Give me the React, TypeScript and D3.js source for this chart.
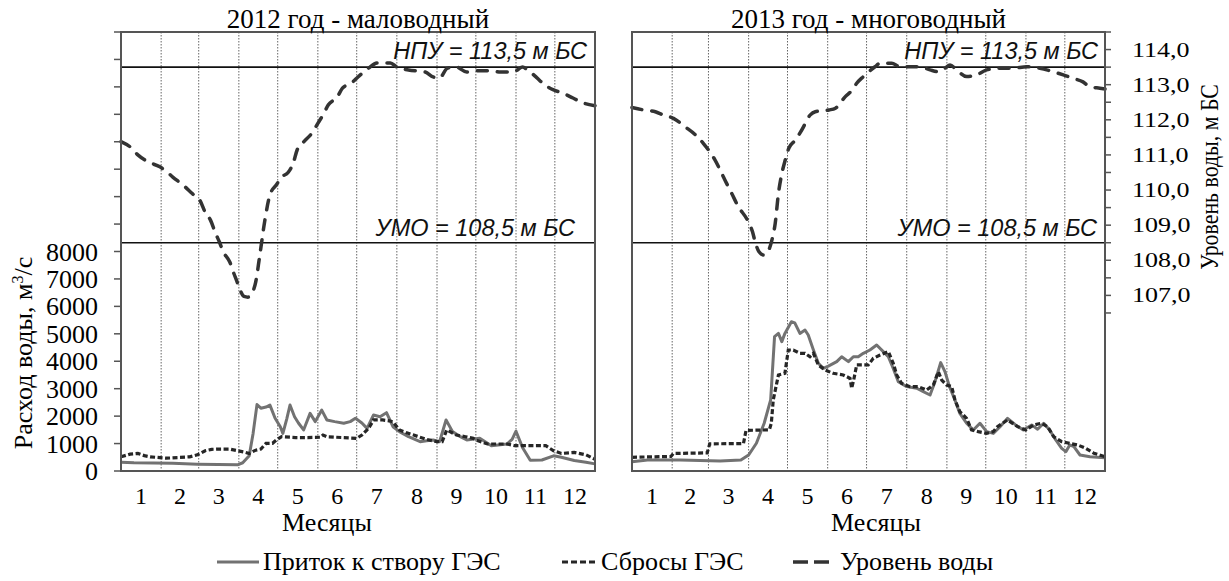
import React, { useEffect, useRef } from 'react'
import * as d3 from 'd3'

const monthLabels = ['1', '2', '3', '4', '5', '6', '7', '8', '9', '10', '11', '12']
const monthDays2012 = [31, 29, 31, 30, 31, 30, 31, 31, 30, 31, 30, 31]
const monthDays2013 = [31, 28, 31, 30, 31, 30, 31, 31, 30, 31, 30, 31]
const flowTicks = [0, 1000, 2000, 3000, 4000, 5000, 6000, 7000, 8000]
const flowMinorTicks = [9000, 10000, 11000, 12000, 13000, 14000, 15000, 16000]
const levelTicks = [107, 108, 109, 110, 111, 112, 113, 114]
const NPU = 113.5
const UMO = 108.5

// [day of year, value]
const level2012 = [
  [0, 111.38], [7, 111.23], [13, 111.0], [21, 110.8], [30, 110.66], [36, 110.5], [40, 110.37],
  [48, 110.14], [55, 109.9], [61, 109.7], [65, 109.37], [69, 109.15], [73, 108.77], [76, 108.52],
  [79, 108.24], [84, 107.95], [87, 107.64], [90, 107.35], [92, 107.15], [95, 106.97], [98, 106.95],
  [101, 107.05], [104, 107.38], [107, 108.1], [111, 109.12], [115, 109.86], [120, 110.15],
  [124, 110.37], [129, 110.5], [133, 110.77], [136, 111.14], [141, 111.37], [148, 111.65],
  [152, 111.9], [156, 112.14], [160, 112.42], [167, 112.65], [171, 112.9], [178, 113.05],
  [183, 113.22], [191, 113.47], [198, 113.62], [208, 113.62], [213, 113.5], [222, 113.42],
  [235, 113.36], [241, 113.22], [246, 113.19], [252, 113.47], [259, 113.5], [267, 113.36],
  [276, 113.4], [285, 113.4], [293, 113.36], [303, 113.36], [310, 113.5], [314, 113.42],
  [321, 113.2], [327, 113.0], [334, 112.85], [341, 112.76], [349, 112.62], [357, 112.48], [366, 112.4],
]

const inflow2012 = [
  [0, 320], [10, 300], [25, 290], [40, 280], [59, 250], [75, 235], [90, 225], [94, 300], [99, 560],
  [102, 1370], [105, 2420], [108, 2290], [112, 2330], [115, 2400], [119, 1920], [123, 1615],
  [125, 1370], [128, 1900], [130.5, 2405], [134, 1980], [137, 1750], [141, 1495], [146, 2100],
  [150, 1800], [155, 2220], [159, 1860], [165, 1800], [172, 1740], [177, 1800], [181, 1920],
  [186, 1750], [190, 1555], [195, 2040], [200, 1980], [205, 2125], [210, 1615], [215, 1435],
  [222, 1250], [231, 1070], [236, 1100], [241, 1130], [246, 1070], [251, 1860], [256, 1435],
  [262, 1250], [267, 1130], [277, 1190], [286, 922], [298, 984], [302, 1150], [305, 1450],
  [310, 860], [316, 390], [325, 400], [334, 553], [340, 500], [350, 380], [359, 320], [366, 260],
]

const discharge2012 = [
  [0, 516], [7, 615], [13, 640], [18, 560], [22.5, 516], [35, 467], [53, 516], [59, 590], [65, 738],
  [70, 790], [75, 800], [84, 800], [90, 738], [95, 690], [99, 640], [104, 760], [108, 800],
  [112, 1010], [117, 1010], [120, 1130], [124, 1250], [135, 1220], [144, 1220], [154, 1230],
  [156, 1310], [159, 1250], [170, 1220], [182, 1190], [186, 1310], [190, 1500], [192, 1615],
  [195, 1860], [202, 1860], [207, 1830], [210, 1790], [215, 1495], [220, 1400], [226, 1310],
  [236, 1150], [244, 1070], [248, 1070], [251.5, 1495], [259, 1310], [266, 1250], [272, 1190],
  [274, 1130], [283, 984], [298, 984], [304, 922], [328, 922], [334, 738], [340, 640], [350, 676],
  [359, 590], [366, 430],
]

const level2013 = [
  [0, 112.35], [9, 112.28], [18, 112.23], [24, 112.14], [32, 112.04], [41, 111.8], [49, 111.57],
  [55, 111.33], [60, 111.09], [64, 110.86], [68, 110.57], [73, 110.19], [77, 109.9], [82, 109.53],
  [89, 109.15], [93, 108.81], [95, 108.53], [98, 108.24], [101.5, 108.15], [104, 108.2],
  [108, 108.58], [110.5, 109.05], [113, 109.9], [115.7, 110.48], [118.3, 110.86], [121, 111.19],
  [126, 111.42], [131, 111.71], [137.6, 112.14], [141.4, 112.23], [152, 112.28], [157, 112.33],
  [164.6, 112.66], [170, 112.85], [173.4, 113.04], [178.5, 113.23], [187.5, 113.51],
  [191.4, 113.61], [200.4, 113.61], [206.8, 113.51], [214.5, 113.51], [222, 113.51], [230, 113.42],
  [236, 113.37], [241.5, 113.47], [245.4, 113.56], [250.5, 113.42], [258.3, 113.23], [266, 113.28],
  [273.7, 113.42], [284, 113.47], [294, 113.47], [304.6, 113.51], [314.8, 113.47], [325, 113.37],
  [332.8, 113.28], [340.5, 113.18], [348, 113.08], [353.4, 112.94], [361, 112.9], [365, 112.88],
]

const inflow2013 = [
  [0, 340], [12, 400], [37, 400], [68, 365], [84, 400], [90, 583], [96, 1010], [102, 1740],
  [107, 2590], [110, 4895], [113, 5015], [115.6, 4715], [118, 5015], [123, 5440], [125.6, 5400],
  [129.6, 5015], [133.5, 5140], [136, 4955], [140, 4410], [143.8, 3925], [147.6, 3740],
  [151.5, 3825], [158, 3985], [161.8, 4165], [167, 3985], [170.8, 4165], [174.6, 4165],
  [178.5, 4290], [183.6, 4410], [188.8, 4590], [193.9, 4350], [197.8, 4165], [201.6, 3740],
  [205.5, 3255], [212, 3075], [219.7, 3015], [224.8, 2890], [230, 2770], [233.8, 3255],
  [238.2, 3950], [241.5, 3620], [245, 3075], [249.2, 2590], [253, 2100], [258.2, 1740],
  [263.4, 1495], [268.5, 1740], [273.7, 1435], [278.8, 1370], [284, 1615], [289.8, 1920],
  [296, 1680], [302, 1495], [308.4, 1680], [313, 1520], [317.7, 1740], [322.3, 1495], [327, 1130],
  [331.6, 825], [334.8, 704], [337.8, 948], [341, 885], [345.7, 583], [353.4, 522], [365, 485],
]

const discharge2013 = [
  [0, 500], [30, 530], [32, 640], [58, 660], [60, 990], [86, 1000], [88, 1480], [106, 1500],
  [107.5, 1740], [109, 2590], [113, 3500], [118, 3560], [120.6, 4410], [124.5, 4410],
  [129.6, 4290], [133.5, 4290], [137.3, 4165], [140, 4290], [143.8, 3865], [149, 3680],
  [155.3, 3560], [163, 3500], [168.2, 3380], [169.5, 3015], [171, 3300], [173.4, 3865],
  [178.5, 3865], [182.3, 3865], [186.2, 4105], [191.4, 4225], [197.8, 4350], [201.6, 3925],
  [204.3, 3500], [208, 3195], [214.5, 3075], [220.9, 3075], [227.4, 2950], [232.5, 3135],
  [236.4, 3620], [239, 3315], [242.8, 3135], [246.7, 3075], [249.2, 2590], [253, 2160],
  [258.2, 1920], [262, 1495], [267.2, 1435], [273.7, 1370], [278.8, 1435], [282, 1615],
  [289.8, 1860], [297.6, 1615], [303.8, 1495], [310, 1680], [316, 1740], [320.7, 1615],
  [325.4, 1250], [331.6, 1070], [337.8, 1008], [344, 948], [350.2, 825], [356.5, 645], [365, 522],
]

const serif = '"Liberation Serif", "Times New Roman", serif'
const sans = '"Liberation Sans", Arial, sans-serif'
const inflowColor = '#727272'
const dischargeColor = '#262626'
const levelColor = '#333333'
const frameColor = '#555555'

const App = () => {
  const chartRef = useRef(null)

  useEffect(() => {
    const svg = d3.select(chartRef.current)
    svg.selectAll('*').remove()

    const top = 32
    const bottom = 471
    const yQ = d3.scaleLinear().domain([0, 16000]).range([bottom, top])
    const yL = d3.scaleLinear().domain([102, 114.5]).range([bottom, top])

    const panels = [
      {
        title: '2012 год - маловодный', days: 366, monthDays: monthDays2012, x0: 121, x1: 595,
        level: level2012, inflow: inflow2012, discharge: discharge2012,
        npuEnd: 587, umoEnd: 575, xTitle: 327,
      },
      {
        title: '2013 год - многоводный', days: 365, monthDays: monthDays2013, x0: 632, x1: 1105,
        level: level2013, inflow: inflow2013, discharge: discharge2013,
        npuEnd: 1098, umoEnd: 1097, xTitle: 876,
      },
    ]

    panels.forEach((p) => {
      const x = d3.scaleLinear().domain([0, p.days]).range([p.x0, p.x1])
      const g = svg.append('g')
      const ends = d3.cumsum(p.monthDays)
      const starts = [0, ...ends.slice(0, 11)]

      // month boundaries
      g.selectAll('.grid')
        .data(ends.slice(0, 11))
        .enter()
        .append('line')
        .attr('x1', (d) => x(d))
        .attr('x2', (d) => x(d))
        .attr('y1', top)
        .attr('y2', bottom)
        .attr('stroke', '#666')
        .attr('stroke-width', 1)
        .attr('stroke-dasharray', '1.5,1.5')

      // НПУ / УМО
      ;[NPU, UMO].forEach((v) => {
        g.append('line')
          .attr('x1', p.x0)
          .attr('x2', p.x1)
          .attr('y1', yL(v))
          .attr('y2', yL(v))
          .attr('stroke', '#111')
          .attr('stroke-width', 1.6)
      })
      g.append('text')
        .attr('x', p.npuEnd)
        .attr('y', yL(NPU) - 8)
        .attr('text-anchor', 'end')
        .attr('font-family', sans)
        .attr('font-style', 'italic')
        .attr('font-size', 23.5)
        .attr('fill', '#111')
        .text('НПУ = 113,5 м БС')
      g.append('text')
        .attr('x', p.umoEnd)
        .attr('y', yL(UMO) - 7)
        .attr('text-anchor', 'end')
        .attr('font-family', sans)
        .attr('font-style', 'italic')
        .attr('font-size', 23.5)
        .attr('fill', '#111')
        .text('УМО = 108,5 м БС')

      const flowLine = d3.line().x((d) => x(d[0])).y((d) => yQ(d[1]))
      const levelLine = d3
        .line()
        .x((d) => x(d[0]))
        .y((d) => yL(d[1]))
        .curve(d3.curveMonotoneX)

      g.append('path')
        .attr('d', flowLine(p.inflow))
        .attr('fill', 'none')
        .attr('stroke', inflowColor)
        .attr('stroke-width', 3)
        .attr('stroke-linejoin', 'round')

      g.append('path')
        .attr('d', flowLine(p.discharge))
        .attr('fill', 'none')
        .attr('stroke', dischargeColor)
        .attr('stroke-width', 3.2)
        .attr('stroke-dasharray', '5,2.5')

      g.append('path')
        .attr('d', levelLine(p.level))
        .attr('fill', 'none')
        .attr('stroke', levelColor)
        .attr('stroke-width', 3.5)
        .attr('stroke-linecap', 'round')
        .attr('stroke-dasharray', '10,10')

      // frame
      g.append('rect')
        .attr('x', p.x0)
        .attr('y', top)
        .attr('width', p.x1 - p.x0)
        .attr('height', bottom - top)
        .attr('fill', 'none')
        .attr('stroke', frameColor)
        .attr('stroke-width', 2)

      // titles and month labels
      g.append('text')
        .attr('x', (p.x0 + p.x1) / 2)
        .attr('y', 28)
        .attr('text-anchor', 'middle')
        .attr('font-family', serif)
        .attr('font-size', 27)
        .text(p.title)

      g.selectAll('.month')
        .data(monthLabels)
        .enter()
        .append('text')
        .attr('x', (d, i) => x(starts[i] + p.monthDays[i] / 2))
        .attr('y', 504)
        .attr('text-anchor', 'middle')
        .attr('font-family', serif)
        .attr('font-size', 24)
        .text((d) => d)

      g.append('text')
        .attr('x', p.xTitle)
        .attr('y', 531)
        .attr('text-anchor', 'middle')
        .attr('font-family', serif)
        .attr('font-size', 26)
        .text('Месяцы')
    })

    // left axis (flow)
    const left = svg.append('g')
    left.selectAll('.tick')
      .data([...flowTicks, ...flowMinorTicks])
      .enter()
      .append('line')
      .attr('x1', 114)
      .attr('x2', 121)
      .attr('y1', (d) => yQ(d))
      .attr('y2', (d) => yQ(d))
      .attr('stroke', frameColor)
      .attr('stroke-width', 1.5)
    left.selectAll('.label')
      .data(flowTicks)
      .enter()
      .append('text')
      .attr('x', 98)
      .attr('y', (d) => yQ(d))
      .attr('dy', '0.35em')
      .attr('text-anchor', 'end')
      .attr('font-family', serif)
      .attr('font-size', 26)
      .text((d) => d)
    const lt = left.append('text')
      .attr('transform', 'translate(32, 353) rotate(-90)')
      .attr('text-anchor', 'middle')
      .attr('font-family', serif)
      .attr('font-size', 26)
    lt.append('tspan').text('Расход воды, м')
    lt.append('tspan').attr('dy', -9).attr('font-size', 16).text('3')
    lt.append('tspan').attr('dy', 9).text('/с')

    // right axis (level)
    const right = svg.append('g')
    right.selectAll('.tick')
      .data(d3.range(106.5, 114.51, 0.5))
      .enter()
      .append('line')
      .attr('x1', 1105)
      .attr('x2', 1111)
      .attr('y1', (d) => yL(d))
      .attr('y2', (d) => yL(d))
      .attr('stroke', frameColor)
      .attr('stroke-width', 1.5)
    right.selectAll('.label')
      .data(levelTicks)
      .enter()
      .append('text')
      .attr('transform', (d) => `translate(1132, ${yL(d) + 7}) scale(1, 0.78)`)
      .attr('font-family', serif)
      .attr('font-size', 26)
      .text((d) => d3.format('.1f')(d).replace('.', ','))
    right.append('text')
      .attr('transform', 'translate(1218, 177) scale(1, 0.84) rotate(-90)')
      .attr('text-anchor', 'middle')
      .attr('font-family', serif)
      .attr('font-size', 26)
      .text('Уровень воды, м БС')

    // legend
    const lg = svg.append('g')
    const ly = 562
    lg.append('line').attr('x1', 217).attr('x2', 259).attr('y1', ly).attr('y2', ly)
      .attr('stroke', inflowColor).attr('stroke-width', 3)
    lg.append('text').attr('x', 263).attr('y', 570).attr('font-family', serif).attr('font-size', 26)
      .text('Приток к створу ГЭС')
    lg.append('line').attr('x1', 562).attr('x2', 597).attr('y1', ly).attr('y2', ly)
      .attr('stroke', dischargeColor).attr('stroke-width', 3.2).attr('stroke-dasharray', '6,3')
    lg.append('text').attr('x', 601).attr('y', 570).attr('font-family', serif).attr('font-size', 26)
      .text('Сбросы ГЭС')
    lg.append('line').attr('x1', 793).attr('x2', 829).attr('y1', ly).attr('y2', ly)
      .attr('stroke', levelColor).attr('stroke-width', 3.5).attr('stroke-dasharray', '15,6')
    lg.append('text').attr('x', 840).attr('y', 570).attr('font-family', serif).attr('font-size', 26)
      .text('Уровень воды')
  }, [])

  return (
    <svg
      ref={chartRef}
      width={1229}
      height={581}
      style={{ position: 'absolute', left: 0, top: 0, background: '#fff' }}
    />
  )
}

export default App
